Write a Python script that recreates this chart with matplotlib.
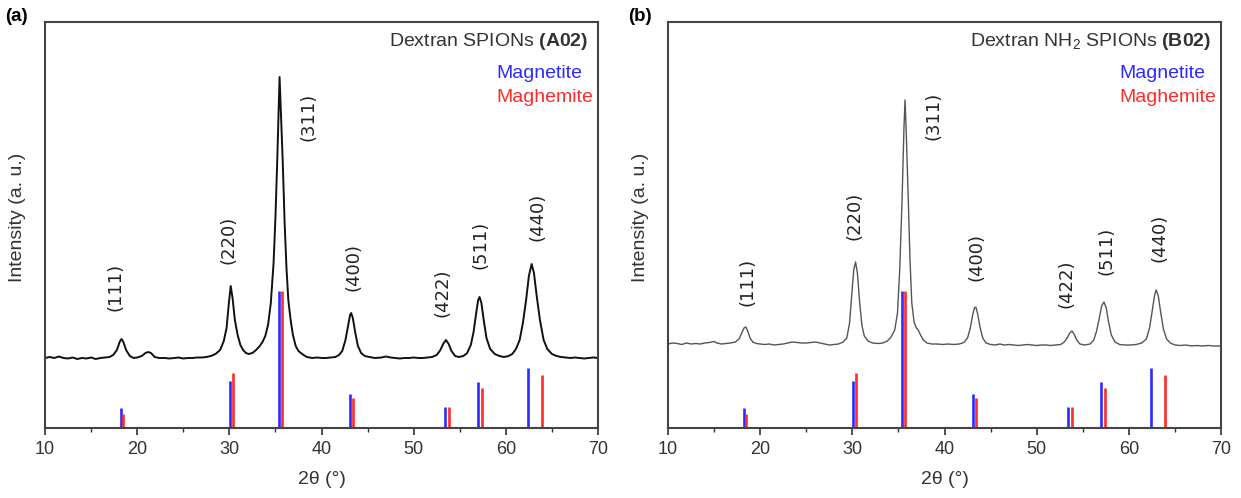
import numpy as np
import matplotlib
matplotlib.use('Agg')
import matplotlib.pyplot as plt

plt.rcParams['font.family'] = ['Liberation Sans', 'DejaVu Sans']
plt.rcParams['mathtext.fontset'] = 'custom'
plt.rcParams['mathtext.rm'] = 'Liberation Sans'
plt.rcParams['mathtext.bf'] = 'Liberation Sans:bold'

a_theta = [10.0, 10.5, 11.0, 11.5, 12.0, 12.5, 13.0, 13.5, 14.0, 14.5, 15.0, 15.5, 16.0, 16.5, 17.0, 17.4,
           17.8, 18.1, 18.3, 18.5, 18.8, 19.2, 19.6, 20.0, 20.5, 20.9, 21.2, 21.5, 21.9, 22.4, 23.0, 23.5,
           24.0, 24.5, 25.0, 25.5, 26.0, 26.5, 27.0, 27.5, 28.0, 28.5, 29.0, 29.4, 29.7, 29.95, 30.15, 30.35,
           30.6, 30.9, 31.2, 31.5, 31.8, 32.1, 32.5, 32.9, 33.3, 33.6, 33.9, 34.2, 34.5, 34.8, 35.0, 35.2,
           35.35, 35.45, 35.6, 35.8, 36.0, 36.2, 36.4, 36.65, 36.9, 37.2, 37.5, 37.9, 38.4, 39.0, 39.5, 40.0,
           40.5, 41.0, 41.5, 41.9, 42.25, 42.6, 42.9, 43.1, 43.22, 43.4, 43.65, 43.95, 44.3, 44.7, 45.2, 45.8,
           46.5, 47.0, 47.5, 48.0, 48.5, 49.0, 49.5, 50.0, 50.5, 51.0, 51.5, 52.0, 52.5, 52.9, 53.2, 53.5,
           53.8, 54.1, 54.5, 54.9, 55.4, 55.8, 56.2, 56.5, 56.8, 57.0, 57.15, 57.35, 57.6, 57.9, 58.3, 58.8,
           59.3, 59.8, 60.3, 60.7, 61.1, 61.5, 61.85, 62.2, 62.5, 62.8, 63.05, 63.35, 63.7, 64.1, 64.5, 65.0,
           65.5, 66.0, 66.5, 67.0, 67.5, 68.0, 68.5, 69.0, 69.5, 70.0]
a_int = [70, 71, 70, 71.5, 70, 69.5, 70.5, 69, 70, 69.5, 70.5, 69, 70, 70.5, 71, 73,
         78, 86, 89, 86, 78, 72, 70, 70.5, 72, 75, 76, 75, 71, 70, 70, 69.5,
         70, 70.5, 69.5, 70, 70, 70.5, 70.5, 71, 72, 74, 78, 87, 100, 125, 142, 130,
         108, 93, 83, 78, 75, 74, 75, 78, 82, 86, 92, 103, 125, 165, 210, 268,
         320, 351, 315, 265, 205, 160, 128, 108, 93, 82, 77, 74, 71, 70, 70.5, 70,
         70, 70.5, 71, 73, 77, 88, 103, 113, 115, 110, 96, 82, 75, 72, 71, 70,
         70.5, 71.5, 70.5, 70, 69.5, 70, 70, 70.5, 70, 70, 70.5, 71, 73, 78, 84, 88,
         84, 77, 72, 71, 72, 75, 83, 96, 116, 128, 131, 125, 108, 90, 79, 74,
         72, 71, 72, 74, 79, 88, 105, 128, 152, 164, 155, 132, 108, 88, 79, 74,
         72, 71, 70.5, 70, 70.5, 70, 69.5, 70, 70.5, 70]

b_theta = [10.0, 10.5, 11.0, 11.5, 12.0, 12.5, 13.0, 13.5, 14.0, 14.5, 15.0, 15.3, 15.8, 16.3, 16.8, 17.3,
           17.7, 18.0, 18.25, 18.45, 18.65, 18.9, 19.2, 19.6, 20.0, 20.5, 21.0, 21.5, 22.0, 22.5, 23.0, 23.5,
           24.0, 24.5, 25.0, 25.5, 26.0, 26.5, 27.0, 27.5, 28.0, 28.5, 29.0, 29.4, 29.7, 29.95, 30.15, 30.35,
           30.55, 30.8, 31.05, 31.3, 31.7, 32.2, 32.8, 33.3, 33.8, 34.2, 34.6, 34.9, 35.15, 35.4, 35.6, 35.72,
           35.85, 36.05, 36.25, 36.45, 36.7, 36.95, 37.15, 37.4, 37.7, 38.1, 38.6, 39.2, 39.8, 40.4, 41.0, 41.6,
           42.1, 42.5, 42.8, 43.05, 43.25, 43.4, 43.6, 43.85, 44.15, 44.5, 45.0, 45.5, 46.0, 46.5, 47.0, 47.5,
           48.0, 48.5, 49.0, 49.5, 50.0, 50.5, 51.0, 51.5, 52.0, 52.6, 53.0, 53.3, 53.6, 53.83, 54.05, 54.35,
           54.7, 55.2, 55.8, 56.2, 56.5, 56.8, 57.05, 57.3, 57.55, 57.8, 58.1, 58.5, 59.0, 59.6, 60.2, 60.8,
           61.4, 61.9, 62.25, 62.55, 62.8, 62.97, 63.2, 63.45, 63.75, 64.1, 64.5, 65.0, 65.6, 66.2, 66.8, 67.4,
           68.0, 68.6, 69.2, 70.0]
b_int = [84, 85, 84.5, 83.5, 85, 84, 84.5, 84, 85, 85.5, 86.5, 85, 84, 84.5, 85, 86,
         89, 95, 100, 101, 97, 90, 86, 84.5, 84, 83.5, 84, 83, 83.5, 84, 85, 86,
         85.5, 85, 85, 85.5, 86, 85, 84, 83, 83.5, 84, 86, 90, 105, 135, 158, 166,
         155, 125, 102, 92, 87, 85, 84.5, 85, 87, 91, 98, 115, 160, 230, 300, 328,
         295, 235, 170, 125, 106, 100, 98, 93, 88, 85, 84, 84, 83.5, 84, 83.5, 84,
         85.5, 90, 100, 113, 120, 121, 114, 101, 90, 85, 83.5, 83, 84, 83, 83.5, 83,
         82.5, 83, 83.5, 83, 82.5, 83, 83, 82.5, 83, 83.5, 86, 90, 95, 97, 94, 88,
         84, 83, 84, 88, 97, 110, 122, 126, 120, 106, 93, 86, 83.5, 83, 83, 83.5,
         85, 89, 100, 118, 133, 138, 132, 116, 99, 89, 85, 83, 82.5, 83, 82, 82.5,
         82, 82.5, 82, 82]

## reference stick patterns
magnetite_pos = [18.27, 30.09, 35.38, 43.08, 53.45, 57.0, 62.4]
magnetite_int = [20, 47, 137, 34, 21, 46, 60]
maghemite_pos = [18.47, 30.37, 35.68, 43.38, 53.85, 57.39, 63.92]
maghemite_int = [14, 55, 137, 30, 21, 40, 53]

hkl = ['(111)', '(220)', '(311)', '(400)', '(422)', '(511)', '(440)']

panels = [
    dict(tag='(a)', theta=a_theta, inten=a_int,
         title=r'Dextran SPIONs $\mathbf{(A02)}$', color='#111111', lw=1.4,
         lab_x=[17.7, 29.96, 38.6, 43.5, 53.1, 57.26, 63.4],
         lab_y=[141, 188, 311, 161, 135, 183, 211]),
    dict(tag='(b)', theta=b_theta, inten=b_int,
         title=r'Dextran NH$_2$ SPIONs $\mathbf{(B02)}$', color='#555555', lw=1.0,
         lab_x=[18.6, 30.27, 38.8, 43.46, 53.29, 57.55, 63.33],
         lab_y=[146, 212, 312, 171, 144, 177, 190]),
]

fig = plt.figure(figsize=(12.41, 4.98), dpi=100)
lefts = [45 / 1241, 668 / 1241]
for left, p in zip(lefts, panels):
    ax = fig.add_axes([left, 70 / 498, 553 / 1241, 406 / 498])
    ax.plot(p['theta'], p['inten'], color=p['color'], lw=p['lw'])
    ax.vlines(magnetite_pos, 0, magnetite_int, color='#2b2bff', lw=1.9)
    ax.vlines(maghemite_pos, 0, maghemite_int, color='#ff2b2b', lw=1.9)
    for lab, lx, ly in zip(hkl, p['lab_x'], p['lab_y']):
        ax.text(lx, ly, lab, rotation=90, ha='center', va='center',
                fontsize=13, family='DejaVu Sans', color='#222222')
    ax.text(0.982, 0.951, p['title'], transform=ax.transAxes, ha='right', va='center',
            fontsize=14, color='#333333')
    ax.text(0.817, 0.872, 'Magnetite', transform=ax.transAxes, ha='left', va='center',
            fontsize=14, color='#2b2bff')
    ax.text(0.817, 0.813, 'Maghemite', transform=ax.transAxes, ha='left', va='center',
            fontsize=14, color='#ff2b2b')
    ax.set_xlim(10, 70)
    ax.set_ylim(0, 406)
    ax.set_xticks(np.arange(10, 71, 10))
    ax.set_xticks(np.arange(15, 70, 10), minor=True)
    ax.set_yticks([])
    ax.tick_params(axis='x', which='major', direction='out', length=5, width=1.2,
                   labelsize=13, colors='#333333', pad=4)
    ax.tick_params(axis='x', which='minor', direction='out', length=3, width=1.0, colors='#333333')
    for s in ax.spines.values():
        s.set_color('#444444')
        s.set_linewidth(1.5)
    ax.set_xlabel('2θ (°)', fontsize=14, color='#333333')
    ax.xaxis.set_label_coords(0.5, -0.105)
    ax.set_ylabel('Intensity (a. u.)', fontsize=14, color='#333333')
    ax.yaxis.set_label_coords(-0.034, 0.52)
    fig.text(left - 40 / 1241, 0.967, p['tag'], fontsize=13.5, fontweight='bold',
             ha='left', va='center')

fig.savefig('out.png', dpi=100)
